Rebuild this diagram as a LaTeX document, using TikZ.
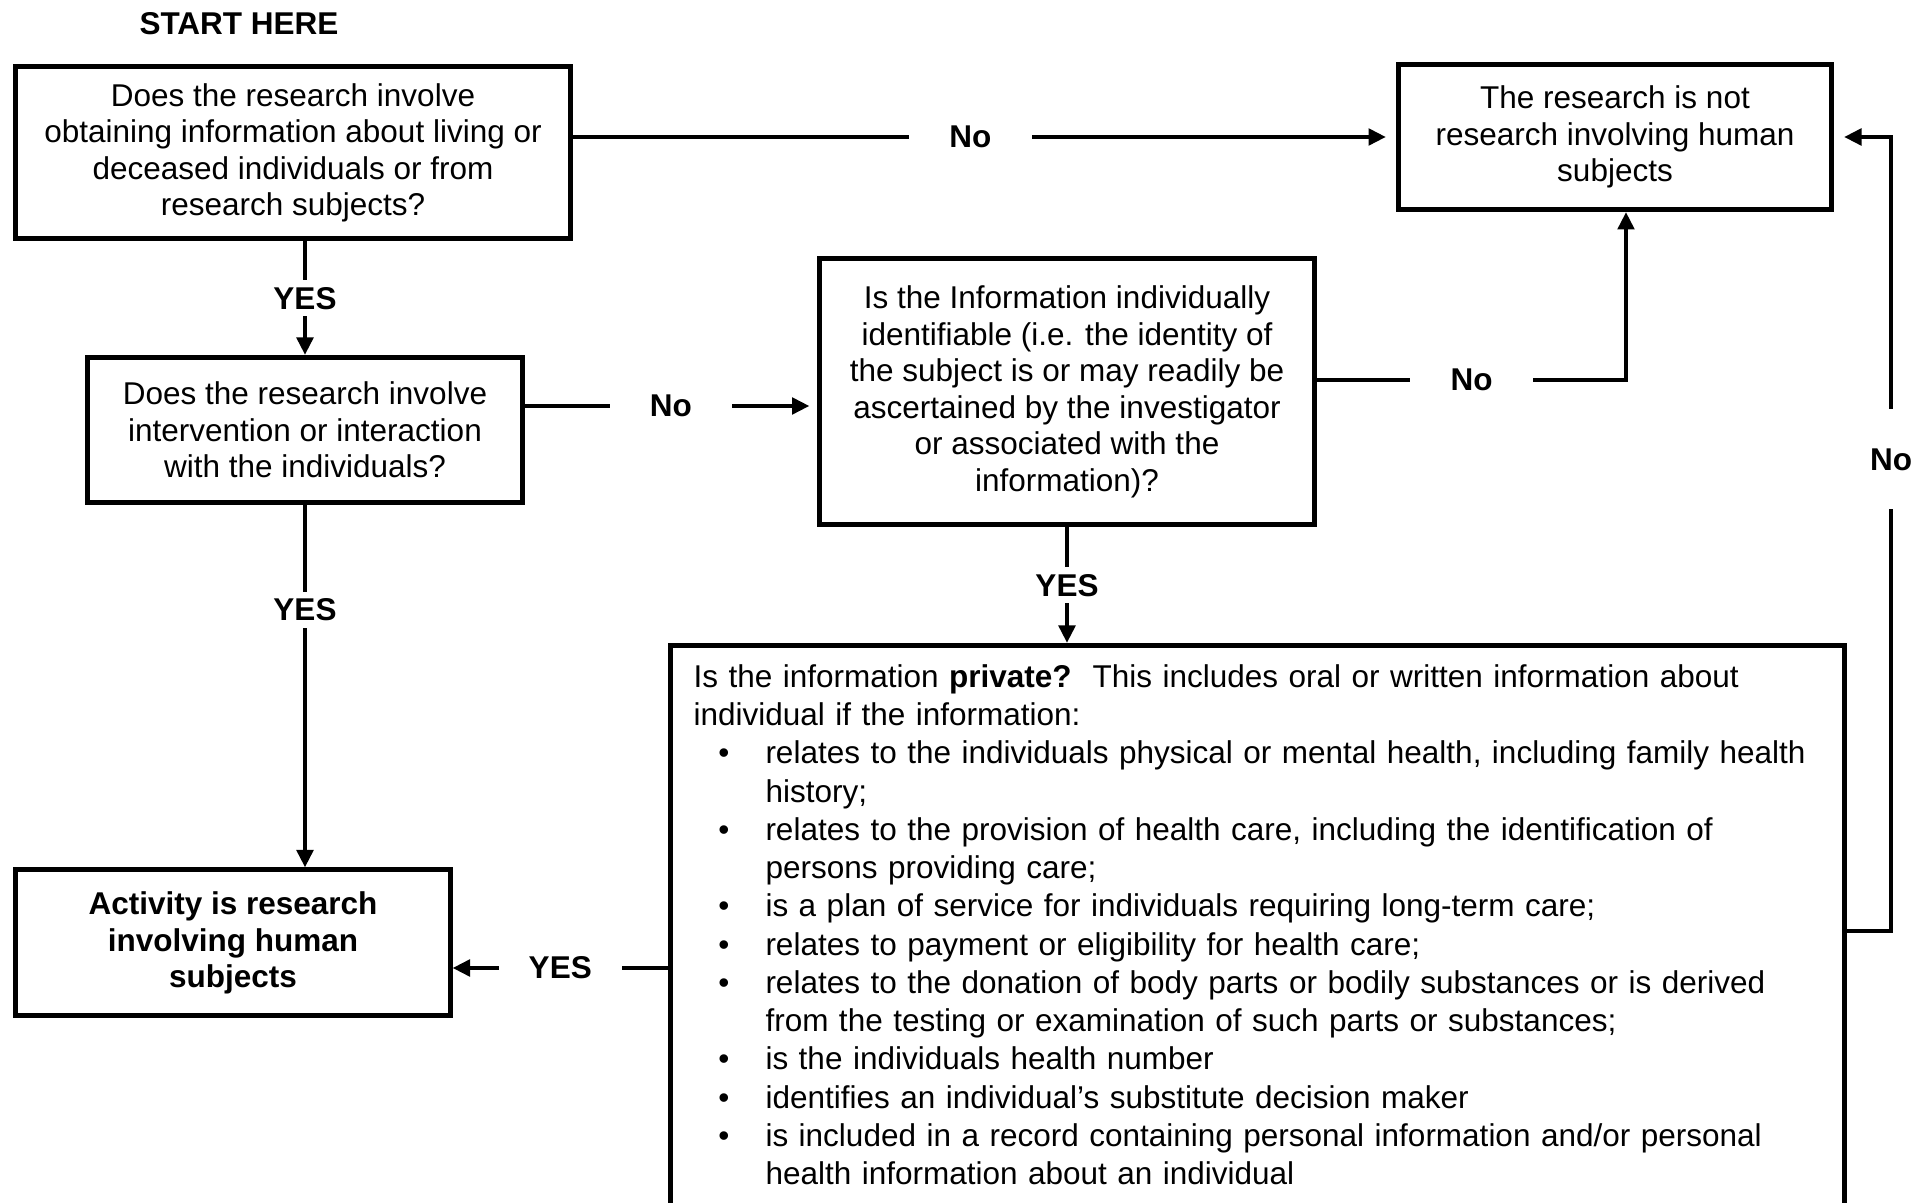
\documentclass[tikz,border=0pt]{standalone}
\usepackage{fontspec}
\setmainfont{Liberation Sans}
\usetikzlibrary{arrows.meta}

\begin{document}
\begin{tikzpicture}[x=0.4pt,y=-0.4pt]
                \useasboundingbox (0,0) rectangle (1914,1203);
                \clip (0,0) rectangle (1914,1203);
                \node [font=\fontsize{12.6}{14.6}\selectfont\bfseries] (T) at (239,24) {START HERE};
                \begin{scope}[every node/.style={draw, line width=2pt, align=center, inner sep=0pt, font=\fontsize{12.6}{14.6}\selectfont}]
                        \node [minimum width=221.6pt, minimum height=68.8pt] (Q1) at (293,153) {Does the research involve\\obtaining information about living or\\deceased individuals or from\\research subjects?};
                        \node [minimum width=173.2pt, minimum height=58pt] (N) at (1615,137) {The research is not\\research involving human\\subjects};
                        \node [minimum width=173.6pt, minimum height=58pt] (Q2) at (305,430) {Does the research involve\\intervention or interaction\\with the individuals?};
                        \node [minimum width=198pt, minimum height=106.4pt] (Q3) at (1067,392) {Is the Information individually\\identifiable (i.e. the identity of\\the subject is or may readily be\\ascertained by the investigator\\or associated with the\\information)?};
                        \node [minimum width=173.6pt, minimum height=58.4pt, font=\fontsize{12.6}{14.6}\selectfont\bfseries] (H) at (233,943) {Activity is research\\involving human\\subjects};
                        \node [anchor=north west, align=left, text width=451.2pt, inner xsep=9.2pt, inner ysep=7.6pt, font=\fontsize{12.6}{15.3}\selectfont] (Q4) at (668,643) {\raggedright Is the information \textbf{private?}\ \ This includes oral or written information about\\individual if the information:
                        \begin{list}{\textbullet}{\setlength{\leftmargin}{28.8pt}\setlength{\labelwidth}{14.4pt}\setlength{\labelsep}{14.4pt}\setlength{\topsep}{0pt}\setlength{\partopsep}{0pt}\setlength{\itemsep}{0pt}\setlength{\parsep}{0pt}}
                        \item relates to the individuals physical or mental health, including family health\\history;
                        \item relates to the provision of health care, including the identification of\\persons providing care;
                        \item is a plan of service for individuals requiring long-term care;
                        \item relates to payment or eligibility for health care;
                        \item relates to the donation of body parts or bodily substances or is derived\\from the testing or examination of such parts or substances;
                        \item is the individuals health number
                        \item identifies an individual’s substitute decision maker
                        \item is included in a record containing personal information and/or personal\\health information about an individual
                        \end{list}
                        \par\noindent\rule{0pt}{30pt}};
                \end{scope}
                \coordinate (a) at ([yshift=9.6pt]Q2.east);
                \coordinate (b) at ([yshift=4.8pt]Q3.east);
                \coordinate (c) at ([yshift=-10pt]H.east);
                \coordinate (d) at (1891,931);
                \begin{scope}[every node/.style={fill=white, inner sep=0pt, font=\fontsize{12.6}{14.6}\selectfont\bfseries}, hl/.style={minimum width=49pt}, vl/.style={minimum height=14.4pt}, every path/.style={line width=1.8pt, ->, >={Triangle[length=7pt,width=6.5pt]}}]
                        \path (Q1.east |- N.west) edge [shorten >=4pt] node [hl, pos=0.483] {No} (N.west);
                        \path (Q2.north |- Q1.south) edge node [vl] {YES} (Q2.north);
                        \path (a) edge [shorten >=3pt] node [hl] {No} (a -| Q3.west);
                        \draw (b) -| node [hl, pos=0.25] {No} ([xshift=4.4pt]N.south);
                        \path (Q3.south) edge node [vl] {YES} (Q3.south |- Q4.north);
                        \path (Q2.south) edge node [vl, pos=0.29] {YES} (Q2.south |- H.north);
                        \path (Q4.west |- c) edge node [hl] {YES} (c);
                        \draw [shorten >=4pt] (Q4.east |- d) -- (d) -- node [pos=0.594, minimum height=40pt] {No} (d |- N.east) -- (N.east);
                \end{scope}
\end{tikzpicture}
\end{document}
